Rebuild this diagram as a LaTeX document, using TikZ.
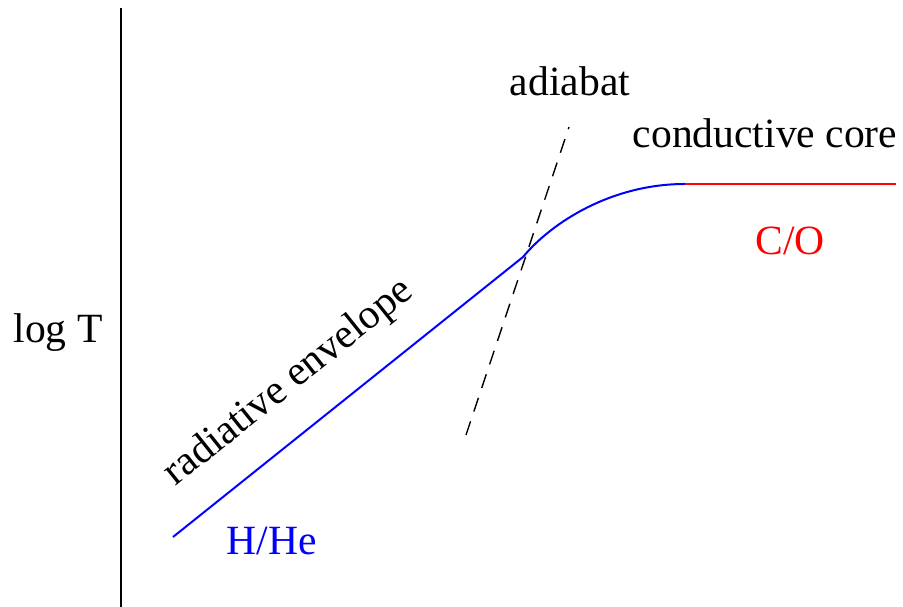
\documentclass[tikz,border=0pt]{standalone}
\usepackage{fontspec}
\setmainfont{Liberation Serif}
\usepackage{tikz}
\usetikzlibrary{positioning}
\definecolor{envblue}{HTML}{0000FF}
\definecolor{corered}{HTML}{FF0000}

\begin{document}
\begin{tikzpicture}[x=0.25pt,y=-0.25pt,font=\fontsize{10.4}{12}\selectfont,
    lbl/.style={inner sep=0pt,anchor=base},
    curve/.style={line width=0.5pt}]
  \useasboundingbox (0,0) rectangle (903,607);
  % axis
  \coordinate (top) at (121,8);
  \coordinate (bot) at (121,607);
  \draw[line width=0.55pt] (top) -- (bot);
  \node[lbl] (logT) at (58,343) {log T};
  % temperature profile
  \coordinate (start) at (173,537);
  \coordinate (kink) at (523,257);
  \coordinate (knee) at (685,184);
  \coordinate (edge) at (896,184);
  \draw[curve,envblue] (start) -- (kink) .. controls (552,222) and (612,184) .. (knee);
  \draw[curve,corered] (knee) -- (edge);
  % adiabat
  \coordinate (adlo) at (466,435);
  \coordinate (adhi) at (569,127);
  \draw[line width=0.35pt,dash pattern=on 3.6pt off 2.6pt] (adlo) -- (adhi);
  \node[lbl] (adiabat) at (570,96) {adiabat};
  \node[lbl] (core) at (765,148) {conductive core};
  \node[lbl,corered] (co) at (790,255) {C/O};
  \node[lbl,envblue] (hhe) at (272,555) {H/He};
  \node[inner sep=0pt,rotate=38.7] (rad) at (289,383) {radiative envelope};
\end{tikzpicture}
\end{document}
